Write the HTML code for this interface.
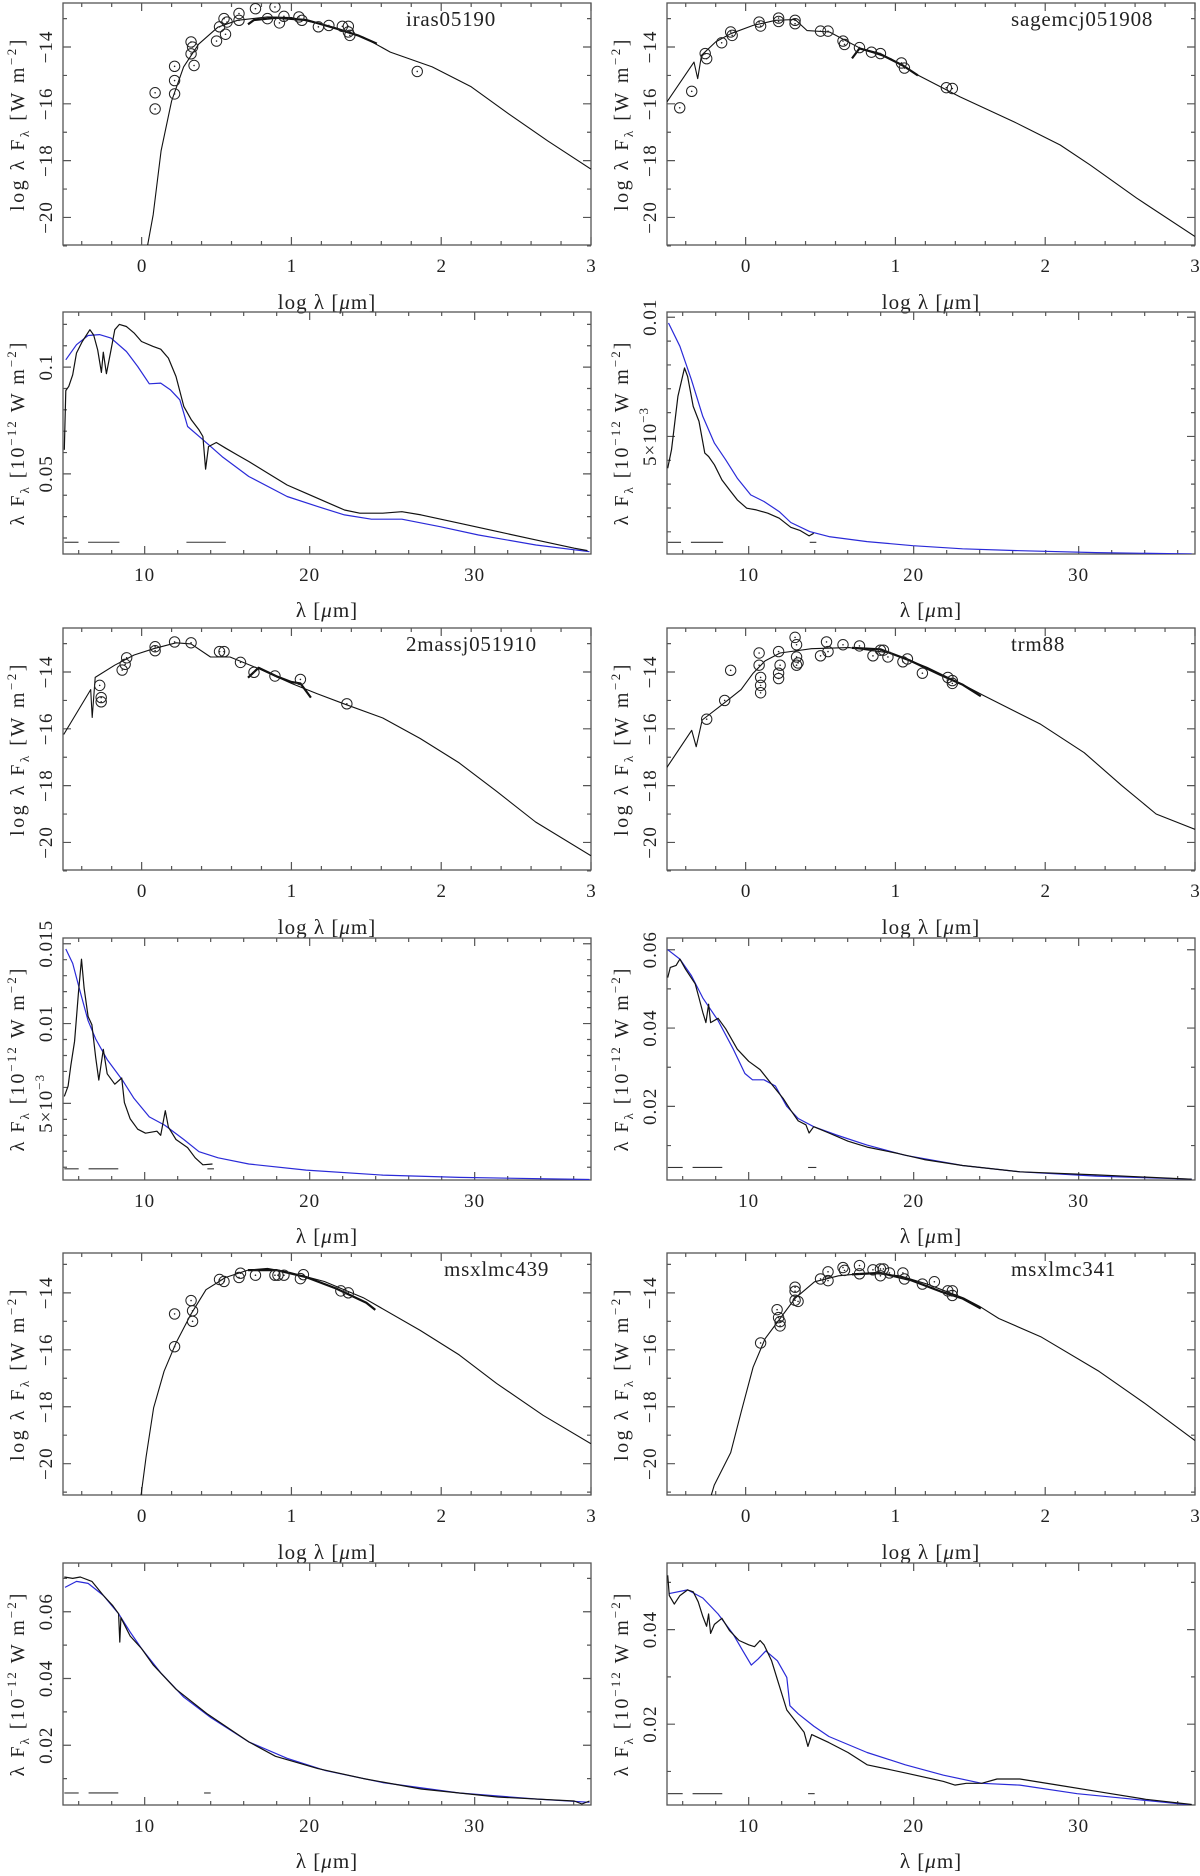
<!DOCTYPE html>
<html><head><meta charset="utf-8">
<style>
html,body{margin:0;padding:0;background:#fff;}
svg{display:block;}
text{font-family:"Liberation Serif",serif;fill:#222;}
</style></head>
<body>
<svg id="chart" width="1200" height="1876" viewBox="0 0 1200 1876" xmlns="http://www.w3.org/2000/svg"></svg>
<script>
// ===== DATA: SED panels (log lambda, log lambda F_lambda) =====
const iras05190ModelX = [0.04,0.077,0.13,0.2,0.28,0.38,0.51,0.64,0.84,1.0,1.23,1.48,1.66,1.94,2.2,2.45,2.71,3.0];
const iras05190ModelY = [-20.98,-19.9,-17.65,-15.9,-14.7,-13.9,-13.3,-13.06,-12.94,-12.96,-13.24,-13.65,-14.18,-14.7,-15.4,-16.35,-17.3,-18.3];
const iras05190IrsX = [0.71,0.75,0.9,1.1,1.3,1.45,1.57];
const iras05190IrsY = [-13.2,-13.05,-12.97,-13.05,-13.35,-13.6,-13.88];
const iras05190PhotX = [0.09,0.09,0.22,0.22,0.22,0.33,0.34,0.33,0.35,0.5,0.52,0.55,0.56,0.57,0.65,0.65,0.76,0.84,0.89,0.92,0.95,1.05,1.07,1.18,1.25,1.34,1.38,1.38,1.39,1.84];
const iras05190PhotY = [-15.61,-16.18,-14.68,-15.18,-15.65,-13.82,-14.0,-14.24,-14.65,-13.79,-13.29,-13.0,-13.55,-13.12,-12.82,-13.06,-12.65,-13.0,-12.59,-13.15,-12.92,-12.94,-13.06,-13.29,-13.24,-13.27,-13.27,-13.47,-13.59,-14.86];

const sagemcjModelX = [-0.525,-0.345,-0.32,-0.295,-0.2,-0.1,0.05,0.2,0.33,0.41,0.56,0.77,0.97,1.15,1.43,1.79,2.1,2.3,2.61,3.0];
const sagemcjModelY = [-15.93,-14.53,-15.11,-14.29,-13.82,-13.53,-13.24,-13.06,-13.03,-13.42,-13.47,-14.06,-14.41,-14.99,-15.75,-16.63,-17.45,-18.15,-19.32,-20.67];
const sagemcjIrsX = [0.71,0.76,0.9,1.05,1.15];
const sagemcjIrsY = [-14.4,-14.05,-14.25,-14.65,-15.0];
const sagemcjPhotX = [-0.44,-0.36,-0.27,-0.26,-0.16,-0.1,-0.09,0.09,0.1,0.22,0.22,0.33,0.33,0.5,0.55,0.65,0.66,0.76,0.84,0.9,1.04,1.06,1.34,1.38];
const sagemcjPhotY = [-16.14,-15.56,-14.23,-14.41,-13.85,-13.47,-13.59,-13.12,-13.26,-12.98,-13.1,-13.06,-13.18,-13.44,-13.44,-13.79,-13.91,-14.02,-14.18,-14.23,-14.56,-14.74,-15.43,-15.46];

const massjModelX = [-0.52,-0.34,-0.33,-0.31,-0.18,-0.05,0.08,0.23,0.33,0.46,0.59,0.79,1.0,1.17,1.35,1.61,1.86,2.12,2.37,2.63,3.0];
const massjModelY = [-16.2,-14.62,-15.6,-14.19,-13.76,-13.4,-13.18,-12.97,-13.01,-13.47,-13.47,-13.9,-14.4,-14.76,-15.12,-15.62,-16.34,-17.2,-18.2,-19.28,-20.47];
const massjIrsX = [0.71,0.78,0.9,1.0,1.06,1.13];
const massjIrsY = [-14.2,-13.85,-14.15,-14.35,-14.4,-14.9];
const massjPhotX = [-0.27,-0.27,-0.28,-0.13,-0.11,-0.1,0.09,0.09,0.22,0.33,0.52,0.55,0.66,0.75,0.89,1.06,1.37];
const massjPhotY = [-14.9,-15.05,-14.47,-13.93,-13.73,-13.5,-13.11,-13.25,-12.94,-12.97,-13.28,-13.28,-13.66,-14.01,-14.14,-14.26,-15.12];

const trm88ModelX = [-0.53,-0.36,-0.33,-0.29,-0.15,-0.03,0.05,0.13,0.23,0.44,0.69,0.97,1.21,1.46,1.59,1.97,2.26,2.51,2.74,3.0];
const trm88ModelY = [-17.39,-16.05,-16.63,-15.69,-15.12,-14.62,-14.04,-13.61,-13.33,-13.18,-13.14,-13.33,-13.83,-14.47,-14.83,-15.84,-16.84,-17.99,-19.0,-19.54];
const trm88IrsX = [0.71,0.9,1.1,1.3,1.45,1.57];
const trm88IrsY = [-13.15,-13.2,-13.6,-14.1,-14.45,-14.85];
const trm88PhotX = [-0.1,-0.14,-0.26,0.09,0.09,0.1,0.1,0.1,0.22,0.23,0.22,0.22,0.33,0.34,0.34,0.34,0.35,0.5,0.54,0.55,0.65,0.76,0.85,0.9,0.92,0.95,1.05,1.08,1.18,1.35,1.38,1.38];
const trm88PhotY = [-13.94,-15.0,-15.66,-13.33,-13.76,-14.19,-14.47,-14.73,-13.28,-13.76,-14.04,-14.23,-12.78,-13.04,-13.47,-13.76,-13.68,-13.43,-12.94,-13.28,-13.04,-13.08,-13.43,-13.23,-13.23,-13.47,-13.64,-13.54,-14.04,-14.19,-14.3,-14.4];

const msx439ModelX = [-0.005,0.03,0.08,0.15,0.23,0.33,0.43,0.56,0.71,0.84,0.99,1.22,1.48,1.86,2.12,2.37,2.68,3.0];
const msx439ModelY = [-21.15,-19.76,-18.04,-16.75,-15.75,-14.74,-13.89,-13.46,-13.2,-13.14,-13.28,-13.6,-14.17,-15.32,-16.18,-17.18,-18.3,-19.3];
const msx439IrsX = [0.71,0.9,1.1,1.3,1.5,1.56];
const msx439IrsY = [-13.2,-13.2,-13.45,-13.85,-14.35,-14.6];
const msx439PhotX = [0.22,0.22,0.33,0.34,0.34,0.52,0.55,0.65,0.66,0.76,0.89,0.91,0.95,1.06,1.08,1.33,1.38];
const msx439PhotY = [-14.74,-15.89,-14.27,-14.63,-15.0,-13.53,-13.6,-13.46,-13.31,-13.38,-13.38,-13.38,-13.38,-13.5,-13.36,-13.93,-14.0];

const msx341ModelX = [-0.24,-0.21,-0.1,-0.03,0.05,0.13,0.23,0.33,0.46,0.62,0.82,1.03,1.21,1.46,1.56,1.69,1.97,2.36,2.67,3.0];
const msx341ModelY = [-21.29,-20.76,-19.61,-18.19,-16.61,-15.61,-14.9,-14.19,-13.61,-13.4,-13.3,-13.4,-13.69,-14.19,-14.47,-14.9,-15.54,-16.76,-17.9,-19.19];
const msx341IrsX = [0.71,0.9,1.1,1.3,1.45,1.57];
const msx341IrsY = [-13.35,-13.3,-13.55,-13.95,-14.2,-14.55];
const msx341PhotX = [0.1,0.21,0.22,0.23,0.23,0.33,0.33,0.33,0.35,0.5,0.55,0.55,0.65,0.66,0.76,0.76,0.85,0.9,0.9,0.92,0.96,1.05,1.06,1.18,1.26,1.35,1.38,1.38];
const msx341PhotY = [-15.76,-14.59,-14.87,-15.01,-15.16,-13.8,-13.94,-14.26,-14.3,-13.51,-13.26,-13.57,-13.11,-13.21,-13.04,-13.33,-13.19,-13.16,-13.4,-13.16,-13.3,-13.3,-13.51,-13.69,-13.61,-13.93,-13.93,-14.09];

// ===== DATA: IRS spectrum panels (lambda, lambda F_lambda) =====
const irasSpecX = [5.13,5.22,5.4,5.64,5.87,6.22,6.68,6.91,7.15,7.38,7.49,7.68,7.96,8.19,8.47,8.89,9.35,9.81,10.51,10.97,11.44,11.9,12.37,12.83,13.29,13.53,13.69,13.87,14.34,14.92,15.61,16.31,17.47,18.63,19.79,20.95,22.11,23.04,24.43,25.59,26.75,29.07,31.39,33.71,36.03,36.84];
const irasSpecY = [0.0613,0.089,0.091,0.0964,0.1066,0.112,0.1175,0.115,0.108,0.0975,0.107,0.0969,0.108,0.1175,0.12,0.119,0.116,0.112,0.1097,0.1084,0.1042,0.0956,0.0816,0.0753,0.0706,0.0675,0.0522,0.0628,0.0647,0.062,0.0589,0.0558,0.0503,0.0448,0.0409,0.037,0.0331,0.0316,0.0316,0.0323,0.0308,0.0269,0.023,0.0191,0.0152,0.0141];
const irasFitX = [5.22,5.87,6.57,7.26,7.96,8.89,9.58,10.28,10.97,11.55,12.13,12.37,12.6,13.53,14.69,16.31,18.63,20.49,22.11,23.74,25.59,27.91,30.23,33.71,36.96];
const irasFitY = [0.1034,0.1105,0.1148,0.1152,0.1136,0.1073,0.1003,0.0922,0.0925,0.0894,0.0847,0.0784,0.0722,0.066,0.0581,0.0488,0.0394,0.0347,0.0308,0.0288,0.0288,0.0253,0.0214,0.0167,0.0136];
const irasDashStart = [5.13,6.57,12.53];
const irasDashEnd = [5.99,8.47,14.92];
const irasDashLevel = 0.018;

const sageSpecX = [5.09,5.32,5.71,6.11,6.3,6.64,6.99,7.34,7.57,7.92,8.38,8.84,9.31,9.88,10.46,11.16,11.85,12.55,13.13,13.66,13.94];
const sageSpecY = [0.00367,0.00444,0.00668,0.00787,0.00752,0.00626,0.00563,0.0043,0.00416,0.00381,0.00318,0.00276,0.00234,0.00199,0.00192,0.00178,0.00157,0.00119,0.00105,0.00083,0.00094];
const sageFitX = [5.14,5.83,6.53,7.22,7.92,8.61,9.31,10.12,10.93,11.85,12.55,13.7,14.86,17.18,19.95,22.96,26.44,31.07,36.85];
const sageFitY = [0.00976,0.00878,0.00738,0.00584,0.00472,0.00402,0.00325,0.00255,0.00227,0.00185,0.00139,0.00101,0.0008,0.00059,0.00042,0.00029,0.00021,0.00013,0.00007];
const sageDashStart = [5.1,6.5,13.7];
const sageDashEnd = [5.9,8.45,14.1];
const sageDashLevel = 0.00056;

const massSpecX = [5.13,5.36,5.52,5.75,5.99,6.17,6.33,6.57,6.8,7.03,7.22,7.49,7.73,8.19,8.61,8.77,9.12,9.58,10.05,10.74,10.97,11.25,11.44,11.9,12.6,13.06,13.53,14.11];
const massSpecY = [0.00544,0.00608,0.00736,0.0089,0.01197,0.01403,0.01223,0.01044,0.00992,0.00787,0.00646,0.00838,0.00685,0.0062,0.00659,0.00505,0.00403,0.00338,0.00313,0.00326,0.003,0.00454,0.00351,0.00274,0.00223,0.00159,0.00115,0.0012];
const massFitX = [5.22,5.64,6.1,6.57,7.03,7.73,8.65,9.35,10.28,11.21,12.37,13.29,14.45,16.31,19.79,24.43,29.07,36.96];
const massFitY = [0.01467,0.01377,0.01197,0.01018,0.00903,0.00774,0.00646,0.00531,0.00415,0.00364,0.00274,0.00197,0.00159,0.0012,0.00082,0.00051,0.00036,0.00023];
const massDashStart = [5.13,6.6,13.8];
const massDashEnd = [6.0,8.4,14.2];
const massDashLevel = 0.0009;

const trmSpecX = [5.09,5.25,5.6,5.83,6.18,6.76,6.99,7.22,7.41,7.57,7.69,8.15,8.61,9.31,10.0,10.69,11.39,12.08,12.55,13.0,13.47,13.66,13.94,14.86,16.02,17.18,19.03,20.65,22.96,26.44,31.07,36.85];
const trmSpecY = [0.0529,0.0555,0.056,0.0576,0.055,0.0513,0.0477,0.044,0.0414,0.0461,0.0414,0.0425,0.0398,0.0346,0.0315,0.0294,0.0257,0.0221,0.019,0.0163,0.0153,0.0132,0.0148,0.0132,0.0111,0.0096,0.008,0.0064,0.0049,0.0033,0.0025,0.0014];
const trmFitX = [5.09,5.83,6.53,7.22,8.15,9.07,9.77,10.23,10.93,11.62,12.31,13.0,13.94,15.32,17.18,19.49,22.96,26.44,31.07,36.85];
const trmFitY = [0.06,0.0576,0.0534,0.0477,0.0419,0.0346,0.0284,0.0268,0.0268,0.0252,0.02,0.0169,0.0148,0.0127,0.0101,0.0075,0.0049,0.0033,0.0022,0.0014];
const trmDashStart = [5.1,6.6,13.6];
const trmDashEnd = [6.0,8.4,14.1];
const trmDashLevel = 0.0044;

const m439SpecX = [5.13,5.64,6.1,6.8,7.49,8.07,8.42,8.49,8.56,9.12,9.81,10.51,11.9,13.76,16.31,17.93,20.49,23.27,26.75,31.39,36.03,36.5,36.96];
const m439SpecY = [0.0704,0.07,0.0704,0.0691,0.0649,0.0618,0.0594,0.0509,0.0582,0.0527,0.049,0.0441,0.0368,0.0295,0.021,0.0167,0.013,0.01,0.0069,0.0045,0.0033,0.0024,0.0033];
const m439FitX = [5.17,5.87,6.57,7.49,8.42,9.12,9.81,10.97,12.37,14.0,16.31,18.63,20.95,24.43,29.07,33.71,36.96];
const m439FitY = [0.0673,0.0691,0.0685,0.0649,0.0594,0.0539,0.049,0.0417,0.0344,0.0283,0.021,0.0161,0.0124,0.0088,0.0057,0.0039,0.0029];
const m439DashStart = [5.13,6.6,13.6];
const m439DashEnd = [6.0,8.4,14.0];
const m439DashLevel = 0.0057;

const m341SpecX = [5.09,5.19,5.49,5.83,6.3,6.64,6.94,7.22,7.45,7.57,7.69,7.92,8.38,8.84,9.42,10.0,10.35,10.69,10.93,11.39,11.85,12.31,12.78,13.36,13.59,13.82,14.86,16.02,17.18,19.49,21.81,22.5,23.19,24.12,25.05,26.44,28.75,31.07,34.07,36.85];
const m341SpecY = [0.0515,0.0472,0.0454,0.0472,0.0484,0.048,0.0459,0.0428,0.0407,0.0433,0.0392,0.0411,0.0424,0.0398,0.0377,0.0368,0.0364,0.0377,0.0368,0.0334,0.0282,0.023,0.0209,0.0183,0.0153,0.0178,0.0161,0.014,0.0114,0.0097,0.0079,0.0071,0.0075,0.0075,0.0084,0.0084,0.0071,0.0058,0.0041,0.003];
const m341FitX = [5.14,6.3,7.22,8.15,9.07,9.65,10.16,10.58,11.04,11.74,12.31,12.5,13.0,13.94,14.86,17.18,19.49,21.81,24.12,26.44,29.91,33.38,36.85];
const m341FitY = [0.0476,0.0484,0.0467,0.0433,0.039,0.0355,0.0325,0.0338,0.0355,0.0334,0.0299,0.0239,0.0222,0.0196,0.0174,0.014,0.0114,0.0092,0.0075,0.0071,0.0053,0.0041,0.0029];
const m341DashStart = [5.1,6.6,13.6];
const m341DashEnd = [6.0,8.4,14.0];
const m341DashLevel = 0.0053;

// ===== tick label arrays =====
const sedXTickLabels = ["0","1","2","3"];
const sedYTickLabels = ["-20","-18","-16","-14"];
const specXTickLabels = ["10","20","30"];

// ===== rendering =====
const NS = "http://www.w3.org/2000/svg";
const svg = document.getElementById("chart");
function mk(tag, attrs, parent){
  const e = document.createElementNS(NS, tag);
  for (const k in attrs) e.setAttribute(k, attrs[k]);
  parent.appendChild(e);
  return e;
}
const PW = 528, PH = 242;
const COLX = [63, 667];
const ROWY = [3, 312, 628, 938, 1253, 1563];

function axisFns(L, T, xmin, xmax, ymin, ymax){
  return {
    sx: v => L + (v - xmin) / (xmax - xmin) * PW,
    sy: v => T + PH - (v - ymin) / (ymax - ymin) * PH
  };
}
function polyline(g, xs, ys, f, color, width, name){
  const pts = xs.map((x,i) => f.sx(x).toFixed(1) + "," + f.sy(ys[i]).toFixed(1)).join(" ");
  const p = mk("polyline", {points: pts, fill:"none", stroke: color, "stroke-width": width, "stroke-linejoin":"round"}, g);
  
  
  return p;
}
function rotText(g, x, y, str, size, name, ls){
  const t = mk("text", {x: 0, y: 0, transform: "translate(" + x + "," + y + ") rotate(-90)", "text-anchor":"middle", "font-size": size, "letter-spacing": ls}, g);
  t.innerHTML = str;
  
  
  return t;
}
function frame(g, L, T, f, xMajor, xMinor, yMajor, yMinor){
  const r = mk("rect", {x:L, y:T, width:PW, height:PH, fill:"none", stroke:"#555", "stroke-width":1.3}, g);
  
  
  let d = "";
  xMinor.forEach(v => { const x = f.sx(v); d += `M${x},${T+PH}v-4M${x},${T}v4`; });
  xMajor.forEach(v => { const x = f.sx(v); d += `M${x},${T+PH}v-8M${x},${T}v8`; });
  yMinor.forEach(v => { const y = f.sy(v); d += `M${L},${y}h4M${L+PW},${y}h-4`; });
  yMajor.forEach(v => { const y = f.sy(v); d += `M${L},${y}h8M${L+PW},${y}h-8`; });
  const tk = mk("path", {d: d, stroke:"#555", "stroke-width":1.2, fill:"none"}, g);
  
  
}

function sedPanel(col, row, label, modelX, modelY, irsX, irsY, photX, photY, yr){
  const L = COLX[col], T = ROWY[row];
  const g = mk("g", {}, svg);
  
  
  const f = axisFns(L, T, -0.525, 3.0, yr[0], yr[1]);
  const xMinor = []; for (let v=-0.4; v<3.0; v+=0.2) xMinor.push(+v.toFixed(2));
  frame(g, L, T, f, [0,1,2,3], xMinor, [-20,-18,-16,-14], [-21,-19,-17,-15,-13]);
  const cp = mk("clipPath", {id:"clip"+col+row}, g);
  mk("rect", {x:L, y:T, width:PW, height:PH}, cp);
  const inner = mk("g", {"clip-path":"url(#clip"+col+row+")"}, g);
  polyline(inner, modelX, modelY, f, "#111", 1.1, "model-sed-curve");
  polyline(inner, irsX, irsY, f, "#111", 2.2, "irs-spectrum-segment");
  photX.forEach((x,i) => {
    const c = mk("circle", {cx: f.sx(x), cy: f.sy(photY[i]), r: 5.2, fill:"none", stroke:"#222", "stroke-width":1}, inner);
    
    
    const d = mk("circle", {cx: f.sx(x), cy: f.sy(photY[i]), r: 0.8, fill:"#222"}, inner);
    
    
  });
  [0,1,2,3].forEach((v,i) => {
    const t = mk("text", {x: f.sx(v), y: T+PH+27, "text-anchor":"middle", "font-size":19}, g);
    t.textContent = sedXTickLabels[i];
    
    
  });
  [-20,-18,-16,-14].forEach((v,i) => {
    rotText(g, L-11, f.sy(v), sedYTickLabels[i].replace("-","\u2212"), 19, "y-tick-label", 1);
  });
  const xt = mk("text", {x: L+PW/2, y: T+PH+64, "text-anchor":"middle", "font-size":21, "letter-spacing":1}, g);
  xt.innerHTML = 'log λ [<tspan font-style="italic">μ</tspan>m]';
  
  
  rotText(g, L-39, T+PH/2, 'log λ F<tspan font-size="13" dy="5">λ</tspan><tspan dy="-5"> [W m</tspan><tspan font-size="13" dy="-8">−2</tspan><tspan dy="8">]</tspan>', 20, "y-axis-title", 2.5);
  const nm = mk("text", {x: col===0 ? 406 : 1011, y: T+23, "font-size":21, "letter-spacing":0.8}, g);
  if (label === "msxlmc439") nm.setAttribute("x", 444);
  nm.textContent = label;
  
  
}

function specPanel(col, row, key, specX, specY, fitX, fitY, dS, dE, dL, yr, major, minor, yLabels){
  const L = COLX[col], T = ROWY[row];
  const g = mk("g", {}, svg);
  
  
  const f = axisFns(L, T, 5.05, 37.05, yr[0], yr[1]);
  const xMinor = []; for (let v=6; v<37; v+=2) xMinor.push(v);
  frame(g, L, T, f, [10,20,30], xMinor, major, minor);
  const cp = mk("clipPath", {id:"sclip"+col+row}, g);
  mk("rect", {x:L, y:T, width:PW, height:PH}, cp);
  const inner = mk("g", {"clip-path":"url(#sclip"+col+row+")"}, g);
  polyline(inner, fitX, fitY, f, "#2a2ad8", 1.2, "model-fit-line");
  polyline(inner, specX, specY, f, "#111", 1.2, "observed-spectrum-line");
  dS.forEach((s,i) => {
    const ln = mk("line", {x1: f.sx(s), x2: f.sx(dE[i]), y1: f.sy(dL), y2: f.sy(dL), stroke:"#333", "stroke-width":1.1}, inner);
    
    
  });
  [10,20,30].forEach((v,i) => {
    const t = mk("text", {x: f.sx(v), y: T+PH+27, "text-anchor":"middle", "font-size":19, "letter-spacing":1}, g);
    t.textContent = specXTickLabels[i];
    
    
  });
  major.forEach((v,i) => {
    if (yLabels[i]) rotText(g, L-11, f.sy(v), yLabels[i], 19, "y-tick-label", 1);
  });
  const xt = mk("text", {x: L+PW/2, y: T+PH+63, "text-anchor":"middle", "font-size":21, "letter-spacing":1}, g);
  xt.innerHTML = 'λ [<tspan font-style="italic">μ</tspan>m]';
  
  
  rotText(g, L-39, T+PH/2, 'λ F<tspan font-size="13" dy="5">λ</tspan><tspan dy="-5"> [10</tspan><tspan font-size="13" dy="-8">−12</tspan><tspan dy="8"> W m</tspan><tspan font-size="13" dy="-8">−2</tspan><tspan dy="8">]</tspan>', 20, "y-axis-title", 2);
}

const SEDR = [-20.97, -12.45];
sedPanel(0,0,"iras05190", iras05190ModelX, iras05190ModelY, iras05190IrsX, iras05190IrsY, iras05190PhotX, iras05190PhotY, SEDR);
sedPanel(1,0,"sagemcj051908", sagemcjModelX, sagemcjModelY, sagemcjIrsX, sagemcjIrsY, sagemcjPhotX, sagemcjPhotY, SEDR);
sedPanel(0,2,"2massj051910", massjModelX, massjModelY, massjIrsX, massjIrsY, massjPhotX, massjPhotY, SEDR);
sedPanel(1,2,"trm88", trm88ModelX, trm88ModelY, trm88IrsX, trm88IrsY, trm88PhotX, trm88PhotY, SEDR);
sedPanel(0,4,"msxlmc439", msx439ModelX, msx439ModelY, msx439IrsX, msx439IrsY, msx439PhotX, msx439PhotY, [-21.1,-12.6]);
sedPanel(1,4,"msxlmc341", msx341ModelX, msx341ModelY, msx341IrsX, msx341IrsY, msx341PhotX, msx341PhotY, [-21.1,-12.6]);

const r01 = []; for (let v=1; v<=10; v++) r01.push(+(v*0.001).toFixed(3));
specPanel(0,1,"iras05190", irasSpecX, irasSpecY, irasFitX, irasFitY, irasDashStart, irasDashEnd, irasDashLevel, [0.0125,0.1258], [0.05,0.1], [0.02,0.03,0.04,0.06,0.07,0.08,0.09,0.11,0.12], ["0.05","0.1"]);
specPanel(1,1,"sagemcj051908", sageSpecX, sageSpecY, sageFitX, sageFitY, sageDashStart, sageDashEnd, sageDashLevel, [0.00007,0.01022], [0.005,0.01], r01, ["5×10<tspan font-size='13' dy='-8'>−3</tspan>","0.01"]);
specPanel(0,3,"2massj051910", massSpecX, massSpecY, massFitX, massFitY, massDashStart, massDashEnd, massDashLevel, [0.0002,0.01536], [0.005,0.01,0.015], r01.concat([0.011,0.012,0.013,0.014]), ["5×10<tspan font-size='13' dy='-8'>−3</tspan>","0.01","0.015"]);
specPanel(1,3,"trm88", trmSpecX, trmSpecY, trmFitX, trmFitY, trmDashStart, trmDashEnd, trmDashLevel, [0.0012,0.063], [0.02,0.04,0.06], [0.01,0.03,0.05], ["0.02","0.04","0.06"]);
specPanel(0,5,"msxlmc439", m439SpecX, m439SpecY, m439FitX, m439FitY, m439DashStart, m439DashEnd, m439DashLevel, [0.0021,0.0746], [0.02,0.04,0.06], [0.01,0.03,0.05,0.07], ["0.02","0.04","0.06"]);
specPanel(1,5,"msxlmc341", m341SpecX, m341SpecY, m341FitX, m341FitY, m341DashStart, m341DashEnd, m341DashLevel, [0.0029,0.0541], [0.02,0.04], [0.01,0.03,0.05], ["0.02","0.04"]);
</script>
</body></html>
